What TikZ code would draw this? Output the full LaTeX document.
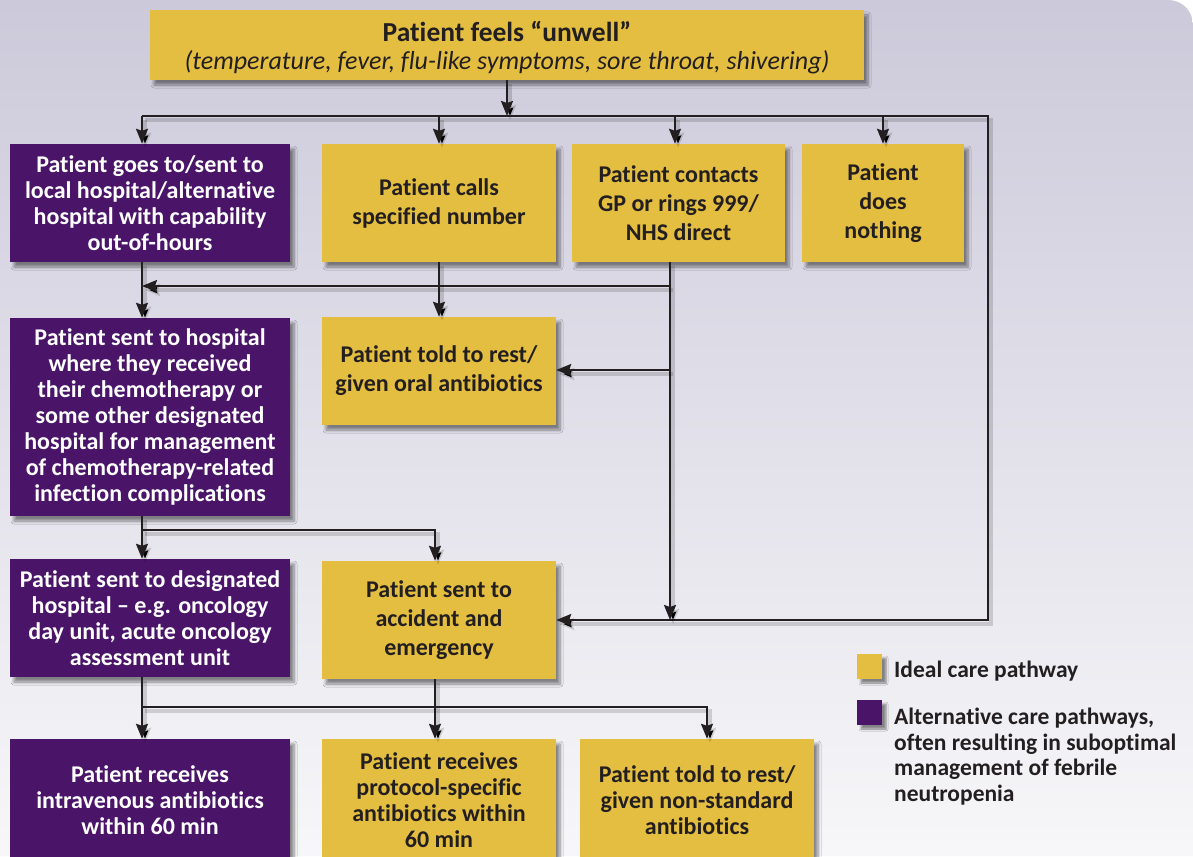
\documentclass[tikz,border=0pt]{standalone}
\usepackage{fontspec}
\setmainfont{Carlito}[Ligatures={NoCommon}]
\usetikzlibrary{arrows.meta,shadows.blur}
\definecolor{yel}{RGB}{228,190,64}
\definecolor{pur}{RGB}{74,21,105}
\definecolor{ink}{RGB}{35,31,32}
\definecolor{bgtop}{RGB}{204,201,218}
\definecolor{bgbot}{RGB}{247,247,249}
\tikzset{
  box/.style={rectangle, inner sep=0pt, align=center,
    font=\bfseries\fontsize{24}{26}\selectfont,
    blur shadow={shadow xshift=4pt, shadow yshift=-5pt, shadow blur radius=3pt, shadow blur steps=6, shadow opacity=45}},
  ybox/.style={box, fill=yel, text=ink},
  pbox/.style={box, fill=pur, text=white},
  loose/.style={font=\bfseries\fontsize{24}{29}\selectfont},
  conn/.style={draw=ink, line width=2pt,
    preaction={draw=black, draw opacity=.15, line width=4pt, transform canvas={shift={(3pt,-4pt)}}}},
  arr/.style={conn, -{Stealth[length=15pt,width=12pt,inset=2pt]}},
  legsq/.style={rectangle, inner sep=0pt, minimum width=25pt, minimum height=25pt,
    blur shadow={shadow xshift=4pt, shadow yshift=-4pt, shadow blur radius=2pt, shadow blur steps=5, shadow opacity=45}},
  legtxt/.style={inner sep=0pt, text=ink, font=\bfseries\fontsize{23.5}{25.5}\selectfont},
}
\begin{document}
\begin{tikzpicture}[x=1pt,y=-1pt]
\useasboundingbox (0,0) rectangle (1193,856);
\clip (0,0) rectangle (1193,856);
\fill[white] (0,0) rectangle (1193,856);
\shade[top color=bgtop, bottom color=bgbot] (0,0) -- (1168,0) .. controls (1182,0) and (1193,11) .. (1193,25) -- (1193,856) -- (0,856) -- cycle;

% nodes
\node[ybox, minimum width=714pt, minimum height=70pt, font=\bfseries\fontsize{27.5}{28}\selectfont] (top) at (507,45)
  {\raisebox{-11pt}[0pt][0pt]{Patient feels “unwell”}\\
   \raisebox{-11pt}[0pt][0pt]{\fontsize{26}{28}\selectfont\mdseries\itshape (temperature, fever, flu-like symptoms, sore throat, shivering)}};

\node[pbox, minimum width=280pt, minimum height=118pt] (A) at (150,203)
  {Patient goes to/sent to\\local hospital/alternative\\hospital with capability\\out-of-hours};
\node[ybox, loose, minimum width=234pt, minimum height=118pt] (B) at (439,203)
  {Patient calls\\specified number};
\node[ybox, loose, minimum width=213pt, minimum height=118pt] (C) at (678.5,203)
  {Patient contacts\\GP or rings 999/\\NHS direct};
\node[ybox, loose, minimum width=162pt, minimum height=118pt] (D) at (883,203)
  {Patient\\does\\nothing};

\node[pbox, minimum width=280pt, minimum height=198pt] (E) at (150,417)
  {Patient sent to hospital\\where they received\\their chemotherapy or\\some other designated\\hospital for management\\of chemotherapy-related\\infection complications};
\node[ybox, loose, minimum width=234pt, minimum height=108pt] (F) at (439,371)
  {Patient told to rest/\\given oral antibiotics};

\node[pbox, minimum width=280pt, minimum height=118pt] (G) at (150,618)
  {Patient sent to designated\\hospital – e.g. oncology\\day unit, acute oncology\\assessment unit};
\node[ybox, loose, minimum width=234pt, minimum height=118pt] (H) at (439,620)
  {Patient sent to\\accident and\\emergency};

\node[pbox, minimum width=280pt, minimum height=122pt] (I) at (150,800)
  {Patient receives\\intravenous antibiotics\\within 60 min};
\node[ybox, minimum width=234pt, minimum height=122pt] (J) at (439,800)
  {Patient receives\\protocol-specific\\antibiotics within\\60 min};
\node[ybox, minimum width=234pt, minimum height=122pt] (K) at (697,800)
  {Patient told to rest/\\given non-standard\\antibiotics};

% legend
\node[legsq, fill=yel] (ly) at (869.5,666.5) {};
\node[legsq, fill=pur] (lp) at (869.5,712.5) {};
\node[legtxt, anchor=base west] (lyt) at (894,677) {Ideal care pathway};
\node[legtxt, anchor=north west, align=left] (lpt) at (894,708)
  {Alternative care pathways,\\often resulting in suboptimal\\management of febrile\\neutropenia};

% coordinates
\coordinate (cL) at (142,0);
\coordinate (cC) at (670,0);
\coordinate (cM) at (435,0);
\coordinate (b1L) at (142,116);
\coordinate (b1R) at (988,116);
\coordinate (b1) at (507,116);
\coordinate (b2) at (670,286);
\coordinate (b2L) at (142,286);
\coordinate (b3) at (670,370);
\coordinate (b4L) at (142,530);
\coordinate (b4R) at (435,530);
\coordinate (b5L) at (142,707);
\coordinate (b5R) at (707,707);

% connectors
\draw[arr] (top.south) -- (b1);
\draw[arr] (b1L) -- (b1R) -- (b1R |- H.east) -- (H.east);
\draw[arr] (b1L) -- (A.north -| cL);
\draw[arr] (b1L -| B.north) -- (B.north);
\draw[arr] (675,116) -- (C.north -| 675,0);
\draw[arr] (b1L -| D.north) -- (D.north);

\draw[arr] (C.south -| cC) -- (cC |- H.east);
\draw[arr] (b2) -- (b2L);
\draw[arr] (b3) -- (F.east |- b3);
\draw[arr] (A.south -| cL) -- (E.north -| cL);
\draw[arr] (B.south) -- (F.north);

\draw[arr] (E.south -| cL) -- (G.north -| cL);
\draw[arr] (b4L) -- (b4R) -- (H.north -| cM);

\draw[arr] (G.south -| cL) -- (I.north -| cL);
\draw[arr] (H.south -| cM) -- (J.north -| cM);
\draw[arr] (b5L) -- (b5R) -- (K.north -| b5R);
\end{tikzpicture}
\end{document}
